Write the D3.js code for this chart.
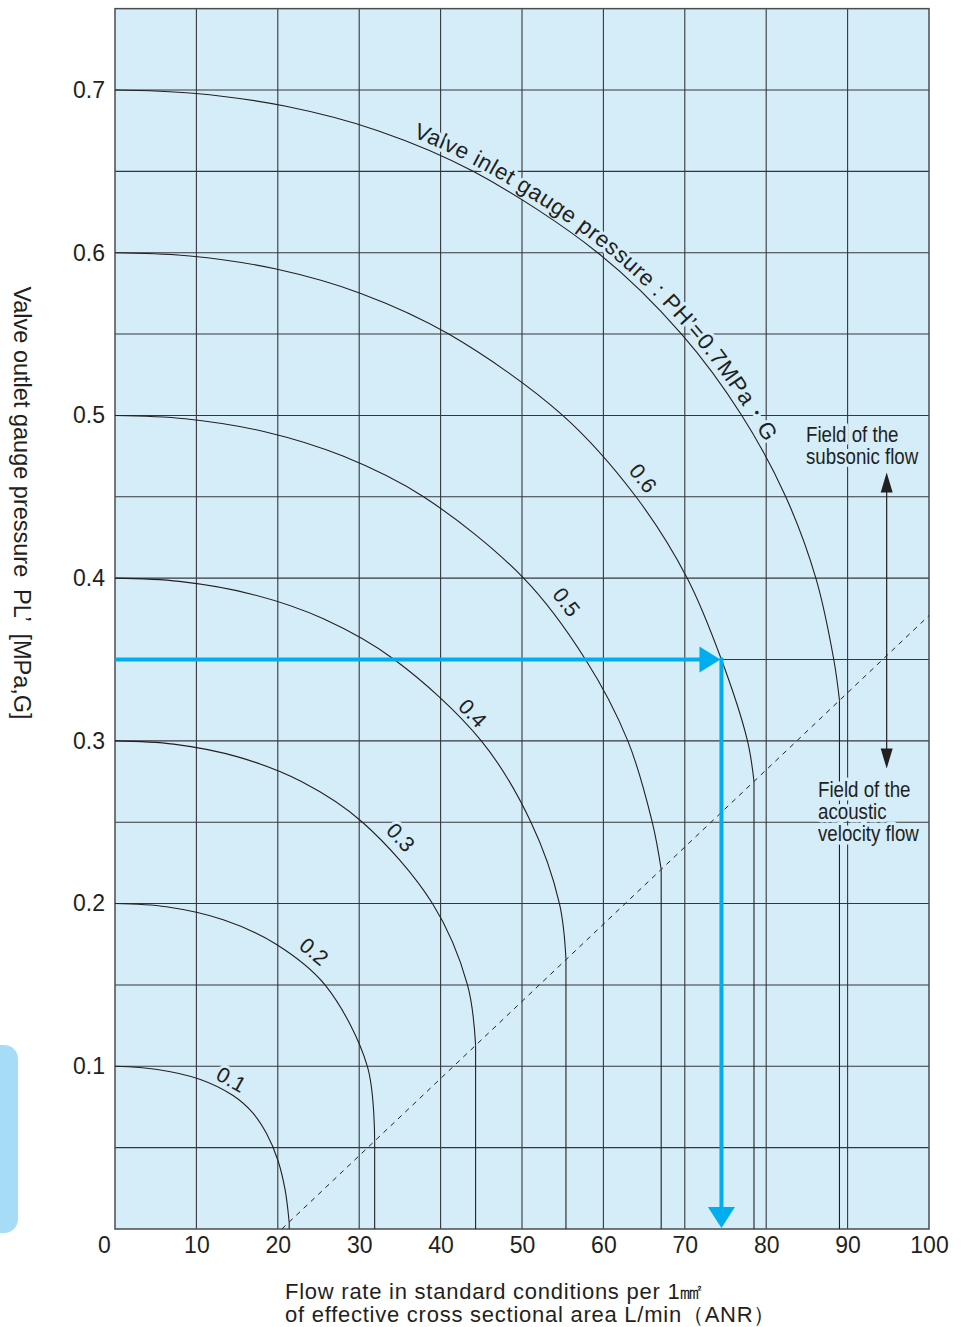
<!DOCTYPE html>
<html><head><meta charset="utf-8">
<script src="https://cdn.jsdelivr.net/npm/d3@7"></script>
<style>
html,body{margin:0;padding:0;background:#fff;}
svg{display:block;}
text{font-family:"Liberation Sans",Arial,Helvetica,sans-serif;fill:#231f20;}
</style></head><body>
<svg id="chart" width="961" height="1327"></svg>
<script>
// ---------- data ----------
const xTicks = [0,10,20,30,40,50,60,70,80,90,100];
const yTicks = [0.1,0.2,0.3,0.4,0.5,0.6,0.7];
const xGrid = [10,20,30,40,50,60,70,80,90];
const yGrid = [0.05,0.1,0.15,0.2,0.25,0.3,0.35,0.4,0.45,0.5,0.55,0.6,0.65,0.7];
const inletPressures = ["0.1","0.2","0.3","0.4","0.5","0.6","0.7"];
// [flow L/min per mm2, outlet gauge pressure MPa] from zero flow down to the sonic point
const curve01 = [[0,0.100],[5.2,0.098],[10.4,0.092],[14.5,0.082],[16.9,0.0715],[18.6,0.0588],[20.0,0.0424],[20.9,0.024],[21.4,0.004]];
const curve02 = [[0,0.200],[6.3,0.198],[13.3,0.190],[19.8,0.175],[25.8,0.150],[31.0,0.100],[31.9,0.054]];
const curve03 = [[0,0.300],[7.2,0.298],[15.2,0.290],[22.9,0.275],[30.4,0.250],[39.0,0.200],[43.3,0.150],[44.3,0.113]];
const curve04 = [[0,0.400],[7.9,0.398],[16.9,0.390],[25.6,0.375],[34.3,0.350],[45.0,0.300],[51.1,0.250],[54.6,0.200],[55.4,0.166]];
const curve05 = [[0,0.500],[8.6,0.498],[18.4,0.490],[28.0,0.475],[37.9,0.450],[50.2,0.400],[57.8,0.350],[63.0,0.300],[66.0,0.250],[67.1,0.221]];
const curve06 = [[0,0.600],[9.2,0.598],[19.8,0.590],[30.2,0.575],[41.0,0.550],[55.0,0.500],[64.0,0.450],[70.3,0.400],[74.5,0.350],[77.7,0.300],[78.5,0.275]];
const curve07 = [[0,0.700],[9.6,0.698],[21.0,0.690],[32.3,0.675],[44.0,0.650],[59.3,0.600],[69.6,0.550],[77.0,0.500],[82.4,0.450],[86.1,0.400],[88.3,0.350],[89.0,0.325]];
const curves = [curve01,curve02,curve03,curve04,curve05,curve06,curve07];
const criticalLine = [[20.5,0],[100,0.377]];
const readingFlow = 74.5, readingOutlet = 0.35;
const fieldArrowFlow = 94.8, fieldArrowRange = [0.283,0.465];

// ---------- layout ----------
const x = d3.scaleLinear().domain([0,100]).range([115,929]);
const y = d3.scaleLinear().domain([0,0.7]).range([1229,90]);
const plotTop = y(0.75);
const bg = "#d5edf9";
const ink = "#231f20";
const blue = "#00aeef";
const labelAt = [0.085,0.163,0.234,0.312,0.379,0.455]; // outlet pressure where curve numbers sit
const labelOff = [13,16,16,12,17,17];
const svg = d3.select("#chart");

// side tab
svg.append("rect").attr("x",-20).attr("y",1045).attr("width",38).attr("height",188).attr("rx",14).attr("fill","#a6dcf6");

// plot background
svg.append("rect").attr("x",x(0)).attr("y",plotTop).attr("width",x(100)-x(0)).attr("height",y(0)-plotTop).attr("fill",bg);

// grid
const grid = svg.append("g").attr("stroke","#34373a").attr("stroke-width",1.1);
grid.selectAll(".vg").data(xGrid).join("line")
  .attr("x1",d=>x(d)).attr("x2",d=>x(d)).attr("y1",plotTop).attr("y2",y(0));
grid.selectAll(".hg").data(yGrid).join("line")
  .attr("x1",x(0)).attr("x2",x(100)).attr("y1",d=>y(d)).attr("y2",d=>y(d));
svg.append("rect").attr("x",x(0)).attr("y",plotTop).attr("width",x(100)-x(0)).attr("height",y(0)-plotTop)
  .attr("fill","none").attr("stroke","#4a4d50").attr("stroke-width",1.5);

// tick labels via d3 axes
const yAxis = svg.append("g").attr("transform",`translate(${x(0)},0)`)
  .call(d3.axisLeft(y).tickValues(yTicks).tickSize(0).tickPadding(10).tickFormat(d3.format(".1f")));
yAxis.select(".domain").remove();
yAxis.selectAll("text").attr("font-size",23).attr("fill",ink).attr("font-family",null);

const xAxis = svg.append("g").attr("transform",`translate(0,${y(0)})`)
  .call(d3.axisBottom(x).tickValues(xTicks).tickSize(0).tickPadding(8).tickFormat(d3.format("d")));
xAxis.select(".domain").remove();
xAxis.selectAll("text").attr("font-size",23).attr("fill",ink).attr("font-family",null);
xAxis.selectAll(".tick").filter(d=>d===0).select("text").attr("dx",-11);

// axis titles
svg.append("text").attr("transform","translate(14,503) rotate(90)").attr("text-anchor","middle")
  .attr("font-size",23.5).text("Valve outlet gauge pressure\u2002PL\u2019\u2002[MPa,G]");
const xt = svg.append("text").attr("font-size",22).attr("letter-spacing",0.75);
xt.append("tspan").attr("x",285).attr("y",1299).text("Flow rate in standard conditions per 1\u339F");
xt.append("tspan").attr("x",285).attr("y",1322).text("of effective cross sectional area L/min\uFF08ANR\uFF09");

// curves
const line = d3.line().x(d=>x(d[0])).y(d=>y(d[1])).curve(d3.curveCatmullRom.alpha(0.5));
const labelLayer = svg.append("g");
const curveLayer = svg.append("g");
const paths = curves.map((c,i)=> curveLayer.append("path").attr("id","curve"+i).attr("d",line(c))
  .attr("fill","none").attr("stroke",ink).attr("stroke-width",1.1));
curves.forEach(c=>{
  const e = c[c.length-1];
  curveLayer.append("line").attr("x1",x(e[0])).attr("x2",x(e[0])).attr("y1",y(e[1])).attr("y2",y(0))
    .attr("stroke",ink).attr("stroke-width",1.1);
});

// critical (dashed) line
curveLayer.append("path").attr("d",d3.line().x(d=>x(d[0])).y(d=>y(d[1]))(criticalLine))
  .attr("fill","none").attr("stroke",ink).attr("stroke-width",1).attr("stroke-dasharray","5,5");

function lengthWhere(node, test){
  let lo=0, hi=node.getTotalLength();
  for(let k=0;k<40;k++){const m=(lo+hi)/2; if(test(node.getPointAtLength(m))) hi=m; else lo=m;}
  return (lo+hi)/2;
}
// curve number labels
labelAt.forEach((p,i)=>{
  const node = paths[i].node();
  const L = lengthWhere(node, pt=>pt.y>=y(p));
  const a = node.getPointAtLength(L-2), b = node.getPointAtLength(L+2), c = node.getPointAtLength(L);
  const ang = Math.atan2(b.y-a.y, b.x-a.x);
  const off = labelOff[i];
  const nx = Math.sin(ang)*off, ny = -Math.cos(ang)*off;
  labelLayer.append("text").attr("transform",`translate(${c.x+nx},${c.y+ny}) rotate(${ang*180/Math.PI})`)
    .attr("text-anchor","middle").attr("dy","0.35em").attr("font-size",21.5)
    .attr("stroke",bg).attr("stroke-width",6).attr("paint-order","stroke").attr("stroke-linejoin","round")
    .text(inletPressures[i]);
});
// long label on the 0.7 curve
{
  const node = paths[6].node();
  const L = lengthWhere(node, pt=>pt.x>=x(36.3));
  labelLayer.append("text").attr("font-size",22.5).attr("letter-spacing",0.5).attr("dy",-6)
    .attr("stroke",bg).attr("stroke-width",6).attr("paint-order","stroke").attr("stroke-linejoin","round")
    .append("textPath").attr("href","#curve6").attr("startOffset",L)
    .text("Valve inlet gauge pressure : PH\u2019=0.7MPa\u30FBG");
}

// blue reading arrows
const ar = svg.append("g");
const hx = x(readingFlow)-1, hy = y(readingOutlet);
ar.append("line").attr("x1",x(0)).attr("x2",hx-18).attr("y1",hy).attr("y2",hy).attr("stroke",blue).attr("stroke-width",4);
ar.append("path").attr("d",`M${hx},${hy} L${hx-21},${hy-13} L${hx-21},${hy+13} Z`).attr("fill",blue);
const vx = x(readingFlow), vb = y(0)-1;
ar.append("line").attr("x1",vx).attr("x2",vx).attr("y1",hy-2).attr("y2",vb-18).attr("stroke",blue).attr("stroke-width",4);
ar.append("path").attr("d",`M${vx},${vb} L${vx-13.5},${vb-21} L${vx+13.5},${vb-21} Z`).attr("fill",blue);

// field annotations
const fx = x(fieldArrowFlow), fy1 = y(fieldArrowRange[1]), fy2 = y(fieldArrowRange[0]);
svg.append("line").attr("x1",fx).attr("x2",fx).attr("y1",fy1+10).attr("y2",fy2-10).attr("stroke",ink).attr("stroke-width",1.2);
svg.append("path").attr("d",`M${fx},${fy1} L${fx-6},${fy1+20} L${fx+6},${fy1+20} Z`).attr("fill",ink);
svg.append("path").attr("d",`M${fx},${fy2} L${fx-6},${fy2-20} L${fx+6},${fy2-20} Z`).attr("fill",ink);

function block(lines, x0, y0, lh){
  const t = svg.append("text").attr("transform",`translate(${x0},${y0}) scale(0.87,1)`).attr("font-size",21.5)
    .attr("stroke",bg).attr("stroke-width",7).attr("paint-order","stroke").attr("stroke-linejoin","round");
  lines.forEach((s,k)=>t.append("tspan").attr("x",0).attr("y",k*lh).text(s));
}
block(["Field of the","subsonic flow"], 806, 442, 22);
block(["Field of the","acoustic","velocity flow"], 818, 797, 22);
</script>
</body></html>
